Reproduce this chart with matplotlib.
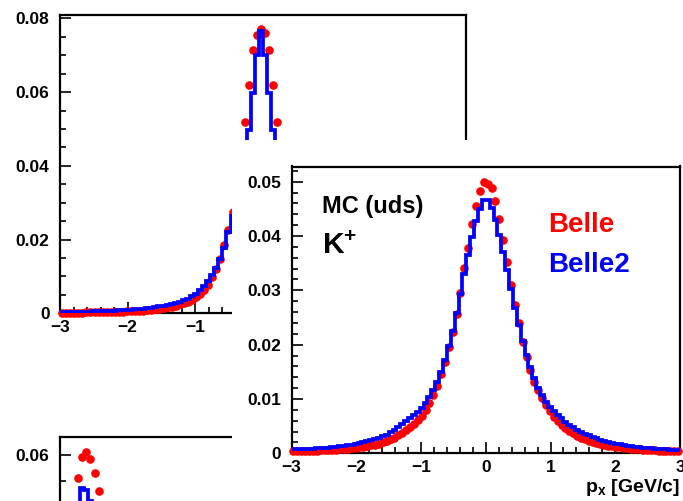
import numpy as np
import matplotlib
matplotlib.use("Agg")
import matplotlib.pyplot as plt
from matplotlib.patches import Rectangle
from matplotlib.ticker import MultipleLocator, FixedLocator, FuncFormatter

plt.rcParams['font.family'] = ['Liberation Sans', 'DejaVu Sans']
plt.rcParams['font.weight'] = 'bold'
plt.rcParams['mathtext.fontset'] = 'custom'
plt.rcParams['mathtext.rm'] = 'Liberation Sans:bold'
plt.rcParams['mathtext.bf'] = 'Liberation Sans:bold'
plt.rcParams['mathtext.it'] = 'Liberation Sans:bold'
plt.rcParams['axes.unicode_minus'] = True

# ---------------- data ----------------
# main panel: K+ px distribution, 100 bins on [-3, 3]
px_edges = np.linspace(-3.0, 3.0, 101)

kplus_belle = [
    0.00040, 0.00041, 0.00043, 0.00045, 0.00047, 0.00049, 0.00051, 0.00054, 0.00057, 0.00061,
    0.00065, 0.00069, 0.00074, 0.00080, 0.00086, 0.00093, 0.00101, 0.00110, 0.00120, 0.00132,
    0.00146, 0.00162, 0.00180, 0.00200, 0.00225, 0.00255, 0.00290, 0.00330, 0.00375, 0.00425,
    0.00480, 0.00540, 0.00605, 0.00680, 0.00790, 0.00930, 0.01080, 0.01240, 0.01460, 0.01680,
    0.01960, 0.02240, 0.02560, 0.02960, 0.03410, 0.03780, 0.04230, 0.04560, 0.04820, 0.05000,
    0.04960, 0.04880, 0.04640, 0.04310, 0.03920, 0.03530, 0.03100, 0.02730, 0.02390, 0.02050,
    0.01780, 0.01530, 0.01320, 0.01160, 0.01010, 0.00890, 0.00770, 0.00670, 0.00590, 0.00520,
    0.00460, 0.00410, 0.00365, 0.00325, 0.00290, 0.00260, 0.00233, 0.00210, 0.00190, 0.00172,
    0.00156, 0.00142, 0.00129, 0.00117, 0.00107, 0.00098, 0.00090, 0.00083, 0.00077, 0.00072,
    0.00067, 0.00062, 0.00058, 0.00054, 0.00050, 0.00047, 0.00044, 0.00042, 0.00040, 0.00038,
]
kplus_belle2 = [
    0.00070, 0.00072, 0.00075, 0.00078, 0.00081, 0.00085, 0.00089, 0.00094, 0.00100, 0.00106,
    0.00113, 0.00120, 0.00128, 0.00137, 0.00147, 0.00158, 0.00170, 0.00184, 0.00200, 0.00218,
    0.00238, 0.00260, 0.00285, 0.00313, 0.00345, 0.00385, 0.00430, 0.00480, 0.00535, 0.00590,
    0.00645, 0.00700, 0.00760, 0.00830, 0.00920, 0.01030, 0.01160, 0.01310, 0.01500, 0.01720,
    0.01980, 0.02260, 0.02580, 0.02940, 0.03300, 0.03650, 0.03980, 0.04280, 0.04500, 0.04670,
    0.04660, 0.04520, 0.04300, 0.04020, 0.03700, 0.03370, 0.03020, 0.02680, 0.02360, 0.02070,
    0.01810, 0.01580, 0.01380, 0.01210, 0.01070, 0.00950, 0.00860, 0.00780, 0.00710, 0.00645,
    0.00585, 0.00530, 0.00480, 0.00435, 0.00395, 0.00360, 0.00328, 0.00299, 0.00273, 0.00250,
    0.00229, 0.00210, 0.00193, 0.00178, 0.00164, 0.00151, 0.00140, 0.00130, 0.00121, 0.00113,
    0.00106, 0.00099, 0.00093, 0.00087, 0.00082, 0.00077, 0.00072, 0.00068, 0.00064, 0.00061,
]

# upper-left panel: narrower px distribution, same binning
upper_belle = [
    0.00015, 0.00016, 0.00017, 0.00018, 0.00019, 0.00020, 0.00022, 0.00024, 0.00026, 0.00028,
    0.00030, 0.00033, 0.00036, 0.00039, 0.00042, 0.00046, 0.00050, 0.00055, 0.00060, 0.00067,
    0.00075, 0.00084, 0.00095, 0.00108, 0.00123, 0.00140, 0.00160, 0.00183, 0.00210, 0.00240,
    0.00280, 0.00320, 0.00370, 0.00430, 0.00510, 0.00620, 0.00780, 0.00980, 0.01210, 0.01480,
    0.01850, 0.02250, 0.02750, 0.03400, 0.04200, 0.05190, 0.06200, 0.07140, 0.07550, 0.07700,
    0.07600, 0.07140, 0.06200, 0.05190, 0.04200, 0.03400, 0.02750, 0.02250, 0.01850, 0.01480,
    0.01210, 0.00980, 0.00780, 0.00620, 0.00510, 0.00430, 0.00370, 0.00320, 0.00280, 0.00240,
    0.00210, 0.00183, 0.00160, 0.00140, 0.00123, 0.00108, 0.00095, 0.00084, 0.00075, 0.00067,
    0.00060, 0.00055, 0.00050, 0.00046, 0.00042, 0.00039, 0.00036, 0.00033, 0.00030, 0.00028,
    0.00026, 0.00024, 0.00022, 0.00020, 0.00019, 0.00018, 0.00017, 0.00016, 0.00015, 0.00014,
]
upper_belle2 = [
    0.00032, 0.00034, 0.00036, 0.00038, 0.00040, 0.00042, 0.00044, 0.00047, 0.00050, 0.00053,
    0.00057, 0.00061, 0.00066, 0.00071, 0.00077, 0.00083, 0.00090, 0.00098, 0.00107, 0.00117,
    0.00128, 0.00140, 0.00155, 0.00170, 0.00190, 0.00210, 0.00230, 0.00250, 0.00280, 0.00310,
    0.00350, 0.00400, 0.00460, 0.00530, 0.00620, 0.00730, 0.00870, 0.01040, 0.01240, 0.01480,
    0.01780, 0.02200, 0.02650, 0.03200, 0.03800, 0.04400, 0.04970, 0.05970, 0.07000, 0.07650,
    0.07000, 0.05970, 0.04970, 0.04400, 0.03800, 0.03200, 0.02650, 0.02200, 0.01780, 0.01480,
    0.01240, 0.01040, 0.00870, 0.00730, 0.00620, 0.00530, 0.00460, 0.00400, 0.00350, 0.00310,
    0.00280, 0.00250, 0.00230, 0.00210, 0.00190, 0.00170, 0.00155, 0.00140, 0.00128, 0.00117,
    0.00107, 0.00098, 0.00090, 0.00083, 0.00077, 0.00071, 0.00066, 0.00061, 0.00057, 0.00053,
    0.00050, 0.00047, 0.00044, 0.00042, 0.00040, 0.00038, 0.00036, 0.00034, 0.00032, 0.00030,
]

# lower-left panel: first bins of a distribution on [0, 3]
lower_edges = np.linspace(0.0, 0.45, 16)
lower_belle = [0.0050, 0.0150, 0.0300, 0.0460, 0.0556, 0.0596, 0.0606, 0.0592,
               0.0565, 0.0531, 0.0480, 0.0440, 0.0400, 0.0360, 0.0320]
lower_belle2 = [0.0040, 0.0120, 0.0260, 0.0420, 0.0490, 0.0537, 0.0533, 0.0511,
                0.0470, 0.0440, 0.0405, 0.0370, 0.0335, 0.0300, 0.0270]

RED = '#ff0000'
BLUE = '#0000ff'
TICK_FS = 12.5

W, H = 683, 501
fig = plt.figure(figsize=(W / 100, H / 100), dpi=100)
fig.patch.set_facecolor('white')


def px_axes(left, top, right, bottom, z):
    return fig.add_axes([left / W, 1 - bottom / H, (right - left) / W, (bottom - top) / H],
                        zorder=z)


def fmt_y(v, _):
    if abs(v) < 1e-12:
        return '0'
    return f'{v:.2f}'


def fmt_x(v, _):
    return f'{int(round(v))}'.replace('-', '\u2212')


def style(ax, ymaj, ymin):
    for s in ax.spines.values():
        s.set_linewidth(1.6)
        s.set_color('black')
    ax.xaxis.set_major_locator(MultipleLocator(1))
    ax.xaxis.set_minor_locator(MultipleLocator(0.2))
    ax.yaxis.set_major_locator(MultipleLocator(ymaj))
    ax.yaxis.set_minor_locator(MultipleLocator(ymin))
    ax.xaxis.set_major_formatter(FuncFormatter(fmt_x))
    ax.yaxis.set_major_formatter(FuncFormatter(fmt_y))
    ax.tick_params(which='both', direction='in', top=False, right=False,
                   width=1.2, labelsize=TICK_FS)
    ax.tick_params(which='major', length=8)
    ax.tick_params(which='minor', length=4)
    ax.tick_params(axis='y', which='major', pad=7.5)
    ax.tick_params(axis='x', which='major', pad=4.5)
    for lab in ax.get_xticklabels() + ax.get_yticklabels():
        lab.set_fontweight('bold')


def draw(ax, edges, red, blue):
    edges = np.asarray(edges)
    centers = 0.5 * (edges[:-1] + edges[1:])
    ax.plot(centers, red, 'o', color=RED, ms=6.2, mew=0, zorder=3, clip_on=False)
    ax.stairs(blue, edges, baseline=None, color=BLUE, linewidth=2.7, zorder=4)


# upper-left panel
ax1 = px_axes(60, 15, 466, 313.3, 1)
draw(ax1, px_edges, upper_belle, upper_belle2)
ax1.set_xlim(-3, 3)
ax1.set_ylim(0, 0.0809)
style(ax1, 0.02, 0.005)

# lower-left panel (only its top edge falls on the canvas)
ax3 = px_axes(60, 437, 466, 767, 2)
draw(ax3, lower_edges, lower_belle, lower_belle2)
ax3.set_xlim(0, 3)
ax3.set_ylim(0, 0.06346)
style(ax3, 0.01, 0.005)
ax3.yaxis.set_major_locator(FixedLocator([0.06]))
ax3.yaxis.set_minor_locator(FixedLocator([0.055]))
ax3.tick_params(axis='x', which='both', bottom=False, labelbottom=False)

# white pad of the front panel
fig.add_artist(Rectangle((232 / W, 0), 1 - 232 / W, 1 - 140 / H,
                         transform=fig.transFigure, facecolor='white',
                         edgecolor='none', zorder=3))

# front panel: K+
ax = px_axes(291.5, 166.5, 680, 453.3, 4)
draw(ax, px_edges, kplus_belle, kplus_belle2)
ax.set_xlim(-3, 3)
ax.set_ylim(0, 0.0528)
style(ax, 0.01, 0.002)

fig.text(321.5 / W, 1 - 213.5 / H, 'MC (uds)', fontsize=17, fontweight='bold',
         ha='left', va='baseline', zorder=5)
fig.text(321.5 / W, 1 - 254 / H, r'K$^{+}$', fontsize=21.5, fontweight='bold',
         ha='left', va='baseline', zorder=5)
fig.text(548.5 / W, 1 - 232.5 / H, 'Belle', fontsize=20, fontweight='bold',
         color=RED, ha='left', va='baseline', zorder=5)
fig.text(548.5 / W, 1 - 271.5 / H, 'Belle2', fontsize=20, fontweight='bold',
         color=BLUE, ha='left', va='baseline', zorder=5)
fig.text(680 / W, 1 - 492 / H, r'p$_{\mathrm{x}}$ [GeV/c]', fontsize=14,
         fontweight='bold', ha='right', va='baseline', zorder=5)

fig.savefig('out.png', dpi=100, facecolor='white')
